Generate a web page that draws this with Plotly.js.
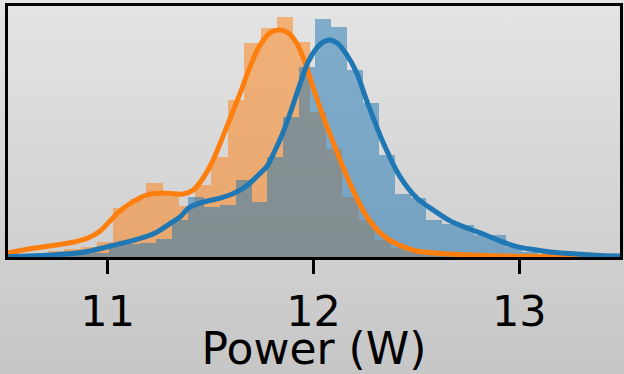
<!DOCTYPE html>
<html>
<head>
<meta charset="utf-8">
<script src="https://cdn.plot.ly/plotly-3.0.1.min.js"></script>
<style>
  html, body { margin: 0; padding: 0; }
  body {
    width: 624px; height: 374px; overflow: hidden;
    background: linear-gradient(to bottom, #e4e4e4 0%, #d4d4d4 55%, #c6c6c6 100%);
  }
  #chart { width: 624px; height: 374px; }
</style>
</head>
<body>
<div id="chart"></div>
<script>
// Histogram bin centres (W) and normalised densities for the two power samples
const orangeBinCenters = [10.592, 10.671, 10.750, 10.830, 10.909, 10.989, 11.068, 11.147, 11.227, 11.306,
  11.386, 11.465, 11.544, 11.624, 11.703, 11.783, 11.862, 11.941, 12.021, 12.100,
  12.180, 12.259, 12.338, 12.418, 12.497, 12.577, 12.656, 12.735, 12.815];
const orangeDensity = [0.019, 0.031, 0.050, 0.063, 0.075, 0.106, 0.317, 0.375, 0.473, 0.394,
  0.331, 0.463, 0.639, 0.994, 1.352, 1.442, 1.514, 1.358, 0.921, 0.686,
  0.389, 0.244, 0.119, 0.067, 0.044, 0.031, 0.019, 0.013, 0.006];

const blueBinCenters = [10.580, 10.657, 10.734, 10.811, 10.889, 10.966, 11.043, 11.120, 11.197, 11.275,
  11.352, 11.429, 11.506, 11.583, 11.661, 11.738, 11.815, 11.892, 11.969, 12.047,
  12.124, 12.201, 12.278, 12.355, 12.433, 12.510, 12.587, 12.664, 12.741, 12.819,
  12.896, 12.973, 13.050, 13.128, 13.205, 13.282];
const blueDensity = [0.006, 0.013, 0.019, 0.025, 0.031, 0.038, 0.094, 0.094, 0.100, 0.125,
  0.244, 0.389, 0.325, 0.338, 0.494, 0.356, 0.639, 0.889, 1.202, 1.498,
  1.452, 1.181, 0.977, 0.650, 0.404, 0.383, 0.244, 0.217, 0.213, 0.150,
  0.150, 0.077, 0.044, 0.031, 0.013, 0.006];

// Kernel density estimates
const orangeKdeX = [10.509, 10.639, 10.804, 10.901, 10.964, 11.047, 11.124, 11.207, 11.289, 11.367,
  11.416, 11.464, 11.513, 11.579, 11.644, 11.692, 11.741, 11.789, 11.833, 11.877,
  11.915, 11.951, 11.999, 12.048, 12.097, 12.145, 12.194, 12.259, 12.338, 12.421,
  12.502, 12.664, 12.907, 13.232, 13.495];
const orangeKdeY = [0.036, 0.067, 0.098, 0.129, 0.175, 0.285, 0.358, 0.406, 0.411, 0.406,
  0.431, 0.506, 0.619, 0.827, 1.036, 1.202, 1.338, 1.413, 1.431, 1.413,
  1.356, 1.256, 1.069, 0.888, 0.725, 0.569, 0.425, 0.264, 0.147, 0.084,
  0.050, 0.031, 0.019, 0.014, 0.011];

const blueKdeX = [10.509, 10.721, 10.882, 11.013, 11.158, 11.231, 11.304, 11.353, 11.391, 11.435,
  11.474, 11.547, 11.605, 11.654, 11.692, 11.741, 11.775, 11.814, 11.853, 11.892,
  11.935, 11.974, 12.016, 12.047, 12.081, 12.120, 12.162, 12.210, 12.259, 12.340,
  12.421, 12.502, 12.582, 12.664, 12.745, 12.825, 12.906, 12.987, 13.067, 13.149,
  13.246, 13.392, 13.495];
const blueKdeY = [0.014, 0.025, 0.042, 0.081, 0.129, 0.163, 0.222, 0.264, 0.316, 0.344,
  0.359, 0.381, 0.406, 0.438, 0.475, 0.536, 0.581, 0.681, 0.794, 0.931,
  1.094, 1.231, 1.319, 1.356, 1.369, 1.344, 1.275, 1.163, 0.988, 0.723,
  0.513, 0.381, 0.306, 0.238, 0.194, 0.156, 0.113, 0.077, 0.059, 0.044,
  0.034, 0.022, 0.019];

const tickValues = [11, 12, 13];
const tickLabels = ['11', '12', '13'];
const axisTitle = 'Power (W)';

const ORANGE = '#ff7f0e';
const BLUE = '#1f77b4';
const orangeBinWidth = 0.0794;
const blueBinWidth = 0.0772;
const FONT = 'DejaVu Sans, sans-serif';

const traces = [
  {
    type: 'bar', x: orangeBinCenters, y: orangeDensity, width: orangeBinWidth,
    marker: { color: ORANGE, line: { width: 0 } }, opacity: 0.5, hoverinfo: 'skip'
  },
  {
    type: 'bar', x: blueBinCenters, y: blueDensity, width: blueBinWidth,
    marker: { color: BLUE, line: { width: 0 } }, opacity: 0.5, hoverinfo: 'skip'
  },
  {
    type: 'scatter', mode: 'lines', x: orangeKdeX, y: orangeKdeY,
    line: { color: ORANGE, width: 5, shape: 'spline', smoothing: 0.9 }, hoverinfo: 'skip'
  },
  {
    type: 'scatter', mode: 'lines', x: blueKdeX, y: blueKdeY,
    line: { color: BLUE, width: 5, shape: 'spline', smoothing: 0.9 }, hoverinfo: 'skip'
  }
];

const layout = {
  width: 624, height: 374,
  margin: { l: 8, r: 4, t: 6, b: 117, pad: 0 },
  paper_bgcolor: 'rgba(0,0,0,0)',
  plot_bgcolor: 'rgba(0,0,0,0)',
  showlegend: false,
  barmode: 'overlay',
  bargap: 0,
  font: { family: FONT, color: '#000' },
  xaxis: {
    range: [10.516, 13.489],
    showgrid: false, zeroline: false,
    showline: true, mirror: true, linecolor: '#000', linewidth: 3,
    ticks: 'outside', ticklen: 14, tickwidth: 2.5, tickcolor: '#000',
    tickvals: tickValues, ticktext: tickLabels,
    tickfont: { family: FONT, size: 43, color: '#000' },
    title: { text: axisTitle, font: { family: FONT, size: 44, color: '#000' } },
    fixedrange: true
  },
  yaxis: {
    range: [0.0125, 1.581],
    showgrid: false, zeroline: false,
    showline: true, mirror: true, linecolor: '#000', linewidth: 3,
    ticks: '', showticklabels: false,
    fixedrange: true
  }
};

Plotly.newPlot('chart', traces, layout, { staticPlot: true, displayModeBar: false });
</script>
</body>
</html>
